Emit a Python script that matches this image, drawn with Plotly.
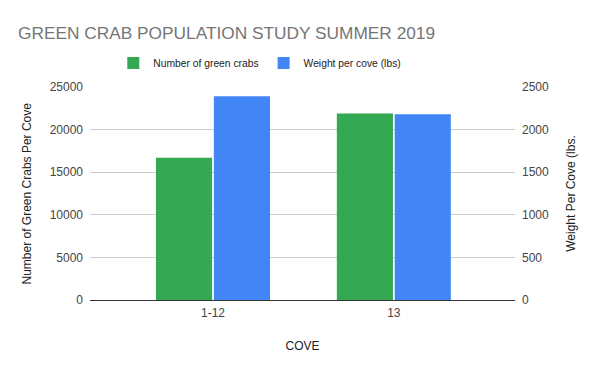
import plotly.graph_objects as go

categories = ["1-12", "13"]
crab_counts = [16700, 21900]
weights_lbs = [2390, 2180]
series_names = ["Number of green crabs", "Weight per cove (lbs)"]
left_ticks = [0, 5000, 10000, 15000, 20000, 25000]
right_ticks = [0, 500, 1000, 1500, 2000, 2500]
left_title = "Number of Green Crabs Per Cove"
right_title = "Weight Per Cove (lbs."

fig = go.Figure()
fig.add_trace(go.Bar(x=categories, y=crab_counts, name=series_names[0],
                     marker=dict(color="#34a853", line=dict(width=0)),
                     offsetgroup=1, yaxis="y"))
fig.add_trace(go.Bar(x=categories, y=weights_lbs, name=series_names[1],
                     marker=dict(color="#4285f4", line=dict(width=0)),
                     offsetgroup=2, yaxis="y2"))

font_family = "Liberation Sans, Arial, sans-serif"
fig.update_layout(
    width=600, height=371,
    margin=dict(l=90, r=85, t=87, b=71),
    paper_bgcolor="white", plot_bgcolor="white",
    font=dict(family=font_family, size=12, color="#222"),
    title=dict(text="GREEN CRAB POPULATION STUDY SUMMER 2019",
               x=18/600, xanchor="left", xref="container",
               y=1-33/371, yanchor="middle", pad=dict(l=0, r=0, t=0, b=0),
               font=dict(size=17.3, color="#757575", family=font_family)),
    legend=dict(orientation="h", x=0.433, xanchor="center", y=1-63/371, yanchor="middle",
                yref="container", xref="container", font=dict(size=10.3, color="#222"),
                traceorder="normal"),
    barmode="group", bargap=0.36, bargroupgap=0.03,
    xaxis=dict(type="category", range=[-0.68, 1.67], showgrid=False, automargin=False,
               tickfont=dict(size=12, color="#444"), ticks="", ticklabelstandoff=4,
               title=dict(text="COVE", font=dict(size=12, color="#222"), standoff=22),
               showline=False, zeroline=False),
    yaxis=dict(range=[0, 25000], tickvals=left_ticks, tickformat="d", showgrid=True,
               gridcolor="#cccccc", automargin=False,
               zeroline=True, zerolinecolor="#333", zerolinewidth=1.3,
               tickfont=dict(size=12, color="#444"), ticks="", ticklabelstandoff=6),
    yaxis2=dict(range=[0, 2500], tickvals=right_ticks, tickformat="d", overlaying="y",
                side="right", automargin=False,
                showgrid=False, zeroline=False, tickfont=dict(size=12, color="#444"),
                ticks="", ticklabelstandoff=6,
                title=dict(text=right_title, font=dict(size=12, color="#222"),
                           standoff=18)),
    annotations=[dict(text=left_title, textangle=-90, xref="paper", yref="paper",
                      x=-64/425, y=0.5, xanchor="center", yanchor="middle",
                      showarrow=False, font=dict(size=12, color="#222"))],
)
fig.write_html("out.html", config={"displayModeBar": False},
               post_script="document.body.style.margin='0';")
